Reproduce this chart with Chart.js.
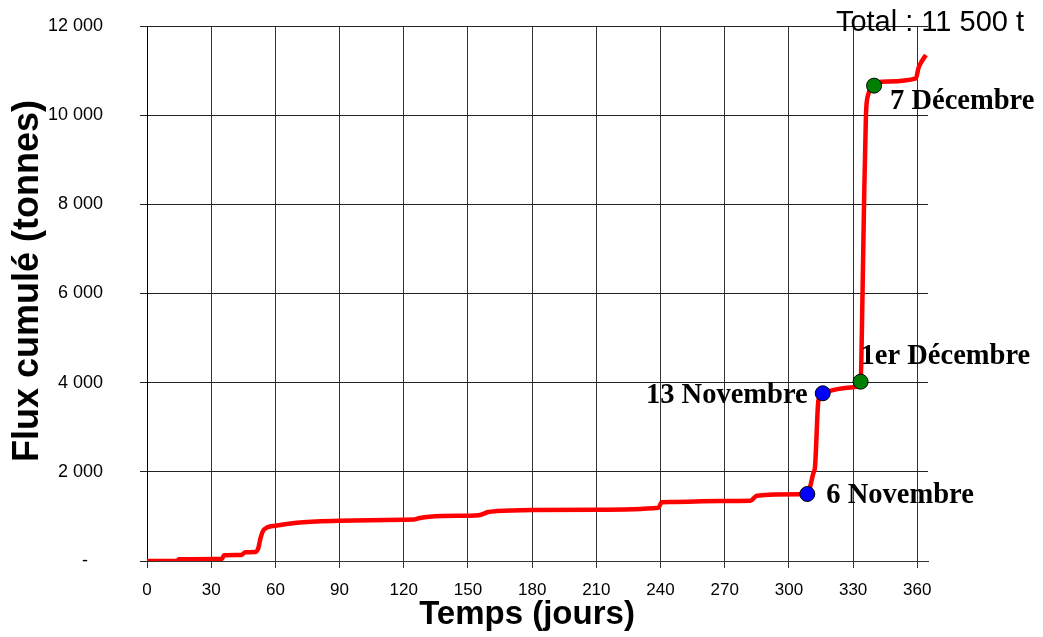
<!DOCTYPE html>
<html><head><meta charset="utf-8">
<script src="https://cdn.jsdelivr.net/npm/chart.js@4/dist/chart.umd.min.js"></script>
<style>html,body{margin:0;padding:0;background:#fff;overflow:hidden}canvas{display:block}</style>
</head><body>
<canvas id="c" width="1043" height="637"></canvas>
<script>
// ---- data ----
const days = [0, 14, 15, 35, 36, 44, 46, 50.5, 52, 53, 54.5, 60, 70, 90, 120, 124.5, 127, 132, 150, 155, 159.5, 163.5, 180, 210, 239, 240.5, 245, 268, 282, 285, 305, 308.6, 311.4, 312.2, 313.8, 315.8, 330, 333.5, 334.4, 335.1, 336, 337, 339.8, 343.4, 359.4, 360.5, 362, 364];
const flux = [0, 5, 38, 50, 128, 135, 195, 200, 285, 500, 695, 792, 860, 904, 927, 930, 960, 994, 1016, 1025, 1099, 1120, 1144, 1151, 1196, 1317, 1325, 1345, 1350, 1465, 1496, 1503, 1967, 2115, 3611, 3762, 3896, 4022, 6000, 8000, 10000, 10450, 10662, 10750, 10826, 11050, 11200, 11350];

const blueDays = [308.6, 315.8];
const blueFlux = [1503, 3762];
const greenDays = [333.5, 339.8];
const greenFlux = [4022, 10662];
const markerLabels = ['6 Novembre', '13 Novembre', '1er Décembre', '7 Décembre'];

const xTicks = [0, 30, 60, 90, 120, 150, 180, 210, 240, 270, 300, 330, 360];
const yTicks = [0, 2000, 4000, 6000, 8000, 10000, 12000];
const totalLabel = 'Total : 11 500 t';
const xTitle = 'Temps (jours)';
const yTitle = 'Flux cumulé (tonnes)';

// ---- build ----
const toXY = (xs, ys) => xs.map((v, i) => ({x: v, y: ys[i]}));
const fmt = v => v === 0 ? '-   ' : String(v).replace(/\B(?=(\d{3})+(?!\d))/g, ' ');

const labelPlugin = {
  id: 'labels',
  afterDatasetsDraw(chart) {
    const {ctx, scales: {x, y}} = chart;
    ctx.save();
    ctx.fillStyle = '#000';
    ctx.font = 'bold 28.5px "Liberation Serif", "Times New Roman", serif';
    ctx.textBaseline = 'middle';
    const pts = [
      [blueDays[0], blueFlux[0], 19, 2, 'left'],
      [blueDays[1], blueFlux[1], -15, 2, 'right'],
      [greenDays[0], greenFlux[0], 0, -25, 'left'],
      [greenDays[1], greenFlux[1], 16, 16, 'left']
    ];
    pts.forEach((p, i) => {
      ctx.textAlign = p[4];
      ctx.fillText(markerLabels[i], x.getPixelForValue(p[0]) + p[2], y.getPixelForValue(p[1]) + p[3]);
    });
    // total
    ctx.font = '29px "Liberation Sans", Arial, sans-serif';
    ctx.textAlign = 'right';
    ctx.fillText(totalLabel, 1024, 23);
    // axis titles
    ctx.font = 'bold 33px "Liberation Sans", Arial, sans-serif';
    ctx.textAlign = 'center';
    ctx.fillText(xTitle, 527, 615);
    ctx.translate(28, 281);
    ctx.rotate(-Math.PI / 2);
    ctx.font = 'bold 36px "Liberation Sans", Arial, sans-serif';
    ctx.fillText(yTitle, 0, 0);
    ctx.restore();
  }
};

new Chart(document.getElementById('c'), {
  type: 'line',
  data: {
    datasets: [
      {data: toXY(blueDays, blueFlux), showLine: false, pointRadius: 7.5, pointBackgroundColor: '#0000ff', pointBorderColor: '#000', pointBorderWidth: 1, order: 0},
      {data: toXY(greenDays, greenFlux), showLine: false, pointRadius: 7.5, pointBackgroundColor: '#008000', pointBorderColor: '#000', pointBorderWidth: 1, order: 0},
      {data: toXY(days, flux), borderColor: '#ff0000', borderWidth: 4.5, pointRadius: 0, cubicInterpolationMode: 'monotone', fill: false, order: 1}
    ]
  },
  options: {
    responsive: false,
    animation: false,
    layout: {padding: {left: 0, top: 26, right: 115, bottom: 0}},
    plugins: {legend: {display: false}, tooltip: {enabled: false}},
    scales: {
      x: {
        type: 'linear', min: 0, max: 365,
        afterBuildTicks: s => { s.ticks = xTicks.map(v => ({value: v})); },
        afterFit: s => { s.height = 76; s.paddingLeft = 0; s.paddingRight = 0; },
        grid: {color: '#333', lineWidth: 1, tickLength: 7},
        border: {color: '#333', width: 1},
        ticks: {color: '#000', font: {family: '"Liberation Sans", Arial, sans-serif', size: 17}, padding: 12, maxRotation: 0, autoSkip: false}
      },
      y: {
        min: 0, max: 12000,
        afterBuildTicks: s => { s.ticks = yTicks.map(v => ({value: v})); },
        afterFit: s => { s.width = 147; s.paddingTop = 0; s.paddingBottom = 0; },
        grid: {color: '#222', lineWidth: 1, tickLength: 7},
        border: {color: '#000', width: 1},
        ticks: {color: '#000', font: {family: '"Liberation Sans", Arial, sans-serif', size: 18}, padding: 37, callback: v => fmt(v)}
      }
    }
  },
  plugins: [labelPlugin]
});
</script>
</body></html>
